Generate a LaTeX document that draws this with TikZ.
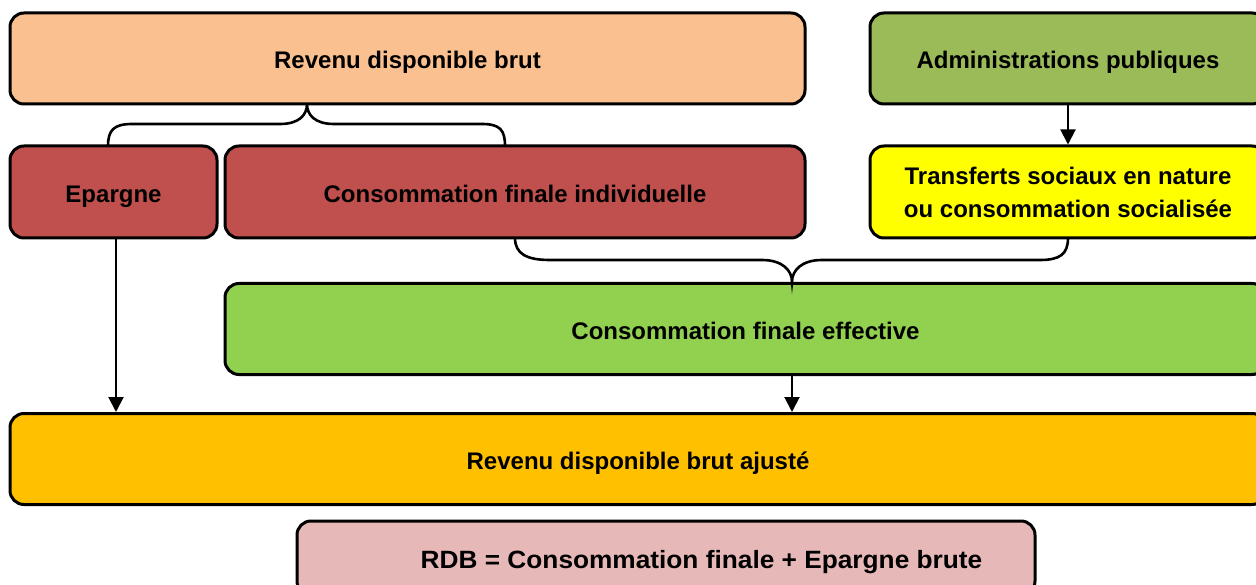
\documentclass[tikz,border=0pt]{standalone}
\usepackage{fontspec}
\setmainfont{Liberation Sans}
\usetikzlibrary{arrows.meta,calc}
\definecolor{cpeach}{HTML}{FAC090}
\definecolor{colive}{HTML}{9BBB59}
\definecolor{cred}{HTML}{C0504D}
\definecolor{cyel}{HTML}{FFFF00}
\definecolor{clgreen}{HTML}{92D050}
\definecolor{corange}{HTML}{FFC000}
\definecolor{cpink}{HTML}{E6B9B8}
\tikzset{
  box/.style={draw=black, line width=3pt, rounded corners=14pt, inner sep=0pt,
    font=\fontsize{24}{33}\selectfont\bfseries, align=center},
  oneline/.style={text height=21pt, text depth=0pt},
  brace/.style={draw=black, line width=2.6pt},
  arr/.style={draw=black, line width=2pt, -{Triangle[width=15pt,length=15pt]}}
}
\begin{document}
\begin{tikzpicture}[x=1pt,y=-1pt]
\useasboundingbox (0,0) rectangle (1256,585);
\node[box, oneline, fill=cpeach, minimum width=795pt, minimum height=91pt] (rdb) at (407.5,58.5) {Revenu disponible brut};
\node[box, oneline, fill=colive, minimum width=396pt, minimum height=91pt] (adm) at (1068,58.5) {Administrations publiques};
\node[box, oneline, fill=cred, minimum width=207pt, minimum height=92pt] (ep) at (113.5,192) {Epargne};
\node[box, oneline, fill=cred, minimum width=580pt, minimum height=92pt] (cfi) at (515,192) {Consommation finale individuelle};
\node[box, fill=cyel, minimum width=396pt, minimum height=92pt] (tsn) at (1068,192) {Transferts sociaux en nature\\ou consommation socialisée};
\node[box, oneline, fill=clgreen, minimum width=1041pt, minimum height=91pt] (cfe) at (745.5,329) {Consommation finale effective};
\node[box, oneline, fill=corange, minimum width=1256pt, minimum height=91pt] (rdba) at (638,459) {Revenu disponible brut ajusté};
\node[box, oneline, fill=cpink, minimum width=738pt, minimum height=74pt, font=\fontsize{25}{30}\selectfont\bfseries] (form) at (666,558) {\hspace*{71pt}\scalebox{1.05}[1]{RDB = Consommation finale + Epargne brute}};
% braces
\path[brace] (108,146) .. controls (108,130) and (114,124) .. (132,124) -- (280,124)
  .. controls (299,124) and (307,115) .. (307,104)
  .. controls (307,115) and (315,124) .. (334,124) -- (482,124)
  .. controls (500,124) and (505,130) .. (505,146);
\path[brace] (515,238) .. controls (515,254) and (527,260) .. (550,260) -- (762,260)
  .. controls (782,260) and (792,270) .. (792,282)
  .. controls (792,270) and (802,260) .. (822,260) -- (1040,260)
  .. controls (1060,260) and (1068,254) .. (1068,238);
% arrows
\coordinate (epb) at (116,238);
\coordinate (cfeb) at (792,373);
\draw[arr] (adm.south) -- (tsn.north);
\draw[arr] (epb) -- (epb |- rdba.north);
\draw[arr] (cfeb) -- (cfeb |- rdba.north);
\end{tikzpicture}
\end{document}
